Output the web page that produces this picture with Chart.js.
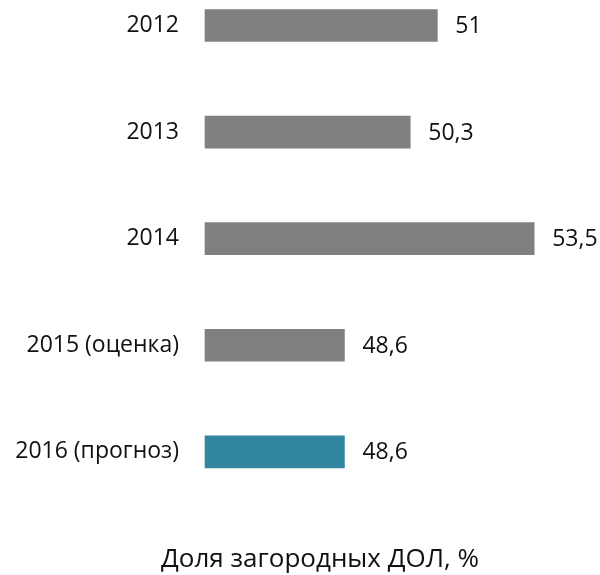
<!DOCTYPE html>
<html>
<head>
<meta charset="utf-8">
<script src="https://cdn.jsdelivr.net/npm/chart.js@4"></script>
<style>
  html, body { margin: 0; padding: 0; background: #fff; }
  #wrap { width: 600px; height: 575px; }
</style>
</head>
<body>
<div id="wrap"><canvas id="barChart"></canvas></div>
<script>
// chart data
const categories = ["2012", "2013", "2014", "2015 (оценка)", "2016 (прогноз)"];
const values = [51, 50.3, 53.5, 48.6, 48.6];
const barColors = ["#808080", "#808080", "#808080", "#808080", "#31859c"];
const chartTitle = "Доля загородных ДОЛ, %";

Chart.defaults.font.family = "'Open Sans', sans-serif";
Chart.defaults.color = "#111";

// value labels to the right of each bar
const valueLabels = {
  id: "valueLabels",
  afterDatasetsDraw(chart) {
    const ctx = chart.ctx;
    const meta = chart.getDatasetMeta(0);
    ctx.save();
    ctx.font = "23px 'Open Sans', sans-serif";
    ctx.fillStyle = "#111";
    ctx.textAlign = "left";
    ctx.textBaseline = "middle";
    meta.data.forEach((bar, i) => {
      const txt = String(values[i]).replace(".", ",");
      ctx.fillText(txt, bar.x + 18, bar.y + 1);
    });
    ctx.restore();
  }
};

const ctx = document.getElementById("barChart").getContext("2d");
new Chart(ctx, {
  type: "bar",
  data: {
    labels: categories,
    datasets: [{
      data: values,
      backgroundColor: barColors,
      barThickness: 32,
      base: 45,
      clip: false
    }]
  },
  options: {
    indexAxis: "y",
    responsive: true,
    maintainAspectRatio: false,
    animation: false,
    // negative right padding pushes the title centre to the right like the original
    layout: { padding: { left: 0, right: -40, top: 25.5, bottom: 0 } },
    scales: {
      x: {
        display: false,
        min: 45,
        max: 55.2
      },
      y: {
        offset: false,
        grid: { display: false, drawTicks: false },
        border: { display: false },
        ticks: { padding: 26, font: { size: 23 }, color: "#111" },
        afterFit(scale) {
          scale.width = 205;
          scale.paddingTop = 0;
          scale.paddingBottom = 0;
        }
      }
    },
    plugins: {
      legend: { display: false },
      tooltip: { enabled: false },
      title: {
        display: true,
        text: chartTitle,
        position: "bottom",
        color: "#111",
        font: { size: 26, weight: "normal" },
        padding: { top: 92, bottom: 0 }
      }
    }
  },
  plugins: [valueLabels]
});
</script>
</body>
</html>
